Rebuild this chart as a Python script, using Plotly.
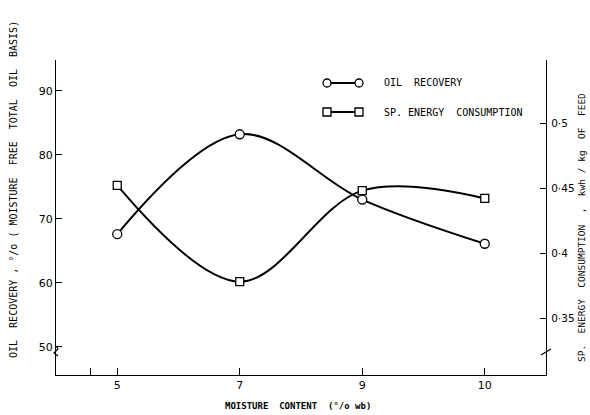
import plotly.graph_objects as go

# ---- data ----
moisture = ["5", "7", "9", "10"]              # moisture content (% wb), equally spaced categories
oil_recovery = [67.6, 83.2, 73.0, 66.1]        # % (left axis)
energy = [0.452, 0.378, 0.448, 0.442]          # kWh/kg of feed (right axis)
left_ticks = [50, 60, 70, 80, 90]
right_ticks = [0.35, 0.40, 0.45, 0.50]
right_ticktext = ["0·35", "0·4", "0·45", "0·5"]

xpos = list(range(len(moisture)))

W, H = 590, 415
L, R, T, B = 56, 44, 60, 40
PW, PH = W - L - R, H - T - B

def px(x):
    return (x - L) / PW

def py(y):
    return (H - B - y) / PH

NB = "\u00a0"
def sp(s):
    return s.replace(" ", NB)

mono = "DejaVu Sans Mono"
line_style = dict(color="black", width=2, shape="spline", smoothing=1.0)

fig = go.Figure()
fig.add_trace(go.Scatter(
    x=xpos, y=oil_recovery, mode="lines+markers", line=line_style,
    marker=dict(symbol="circle", size=9, color="white", line=dict(color="black", width=1.3)),
    name="OIL RECOVERY", showlegend=False, yaxis="y"))
fig.add_trace(go.Scatter(
    x=xpos, y=energy, mode="lines+markers", line=line_style,
    marker=dict(symbol="square", size=8, color="white", line=dict(color="black", width=1.3)),
    name="SP. ENERGY CONSUMPTION", showlegend=False, yaxis="y2"))

fig.update_layout(
    width=W, height=H,
    margin=dict(l=L, r=R, t=T, b=B, pad=0),
    paper_bgcolor="white", plot_bgcolor="white",
    font=dict(family="DejaVu Sans", size=11, color="black"),
    xaxis=dict(
        range=[-0.5, 3.5],
        tickvals=[-0.22] + xpos, ticktext=[""] + moisture,
        ticks="inside", ticklen=7, tickwidth=1.2, tickcolor="black",
        showline=True, linecolor="black", linewidth=1.2,
        showgrid=False, zeroline=False, fixedrange=True,
        tickfont=dict(size=11),
    ),
    yaxis=dict(
        range=[45.6, 94.8], tickvals=left_ticks,
        ticks="inside", ticklen=6, tickwidth=1.2, tickcolor="black",
        showline=True, linecolor="black", linewidth=1.2,
        showgrid=False, zeroline=False, tickfont=dict(size=11),
    ),
    yaxis2=dict(
        range=[0.3062, 0.5485], overlaying="y", side="right",
        tickvals=right_ticks, ticktext=right_ticktext,
        ticks="inside", ticklen=6, tickwidth=1.2, tickcolor="black",
        showline=True, linecolor="black", linewidth=1.2,
        showgrid=False, zeroline=False, tickfont=dict(size=10.5),
        ticklabelstandoff=2,
    ),
)

ann = []
ann.append(dict(text=sp("OIL  RECOVERY , °/o ( MOISTURE  FREE  TOTAL  OIL  BASIS)"),
                xref="paper", yref="paper", x=px(13), y=py(190), textangle=-90,
                showarrow=False, font=dict(family=mono, size=10), xanchor="center", yanchor="middle"))
ann.append(dict(text=sp("SP.  ENERGY  CONSUMPTION  ,  kwh / kg  OF  FEED"),
                xref="paper", yref="paper", x=px(581), y=py(228), textangle=-90,
                showarrow=False, font=dict(family=mono, size=9.5), xanchor="center", yanchor="middle"))
ann.append(dict(text="<b>" + sp("MOISTURE  CONTENT  (°/o wb)") + "</b>",
                xref="paper", yref="paper", x=px(298), y=py(406),
                showarrow=False, font=dict(family=mono, size=9), xanchor="center", yanchor="middle"))
ann.append(dict(text=sp("OIL  RECOVERY"), xref="paper", yref="paper", x=px(382), y=py(82),
                showarrow=False, font=dict(family=mono, size=10), xanchor="left", yanchor="middle"))
ann.append(dict(text=sp("SP. ENERGY  CONSUMPTION"), xref="paper", yref="paper", x=px(382), y=py(112),
                showarrow=False, font=dict(family=mono, size=10), xanchor="left", yanchor="middle"))

shapes = []
for yy, kind in [(83, "circle"), (112, "rect")]:
    shapes.append(dict(type="line", xref="paper", yref="paper", x0=px(331), x1=px(355),
                       y0=py(yy), y1=py(yy), line=dict(color="black", width=2)))
    for xx in (327, 359):
        shapes.append(dict(type=kind, xref="paper", yref="paper",
                           xsizemode="pixel", ysizemode="pixel",
                           xanchor=px(xx), yanchor=py(yy), x0=-4, x1=4, y0=-4, y1=4,
                           fillcolor="white", line=dict(color="black", width=1.3)))
# axis break marks
shapes.append(dict(type="path", xref="paper", yref="paper", xsizemode="pixel", ysizemode="pixel",
                   xanchor=px(56), yanchor=py(352),
                   path="M 0 6 L 2 3 L -2 -1 L 2 -4", line=dict(color="black", width=1.2)))
shapes.append(dict(type="line", xref="paper", yref="paper", xsizemode="pixel", ysizemode="pixel",
                   xanchor=px(546), yanchor=py(352), x0=-5, x1=5, y0=-3, y1=3,
                   line=dict(color="black", width=1.2)))

fig.update_layout(annotations=ann, shapes=shapes)
fig.write_html("out.html")
